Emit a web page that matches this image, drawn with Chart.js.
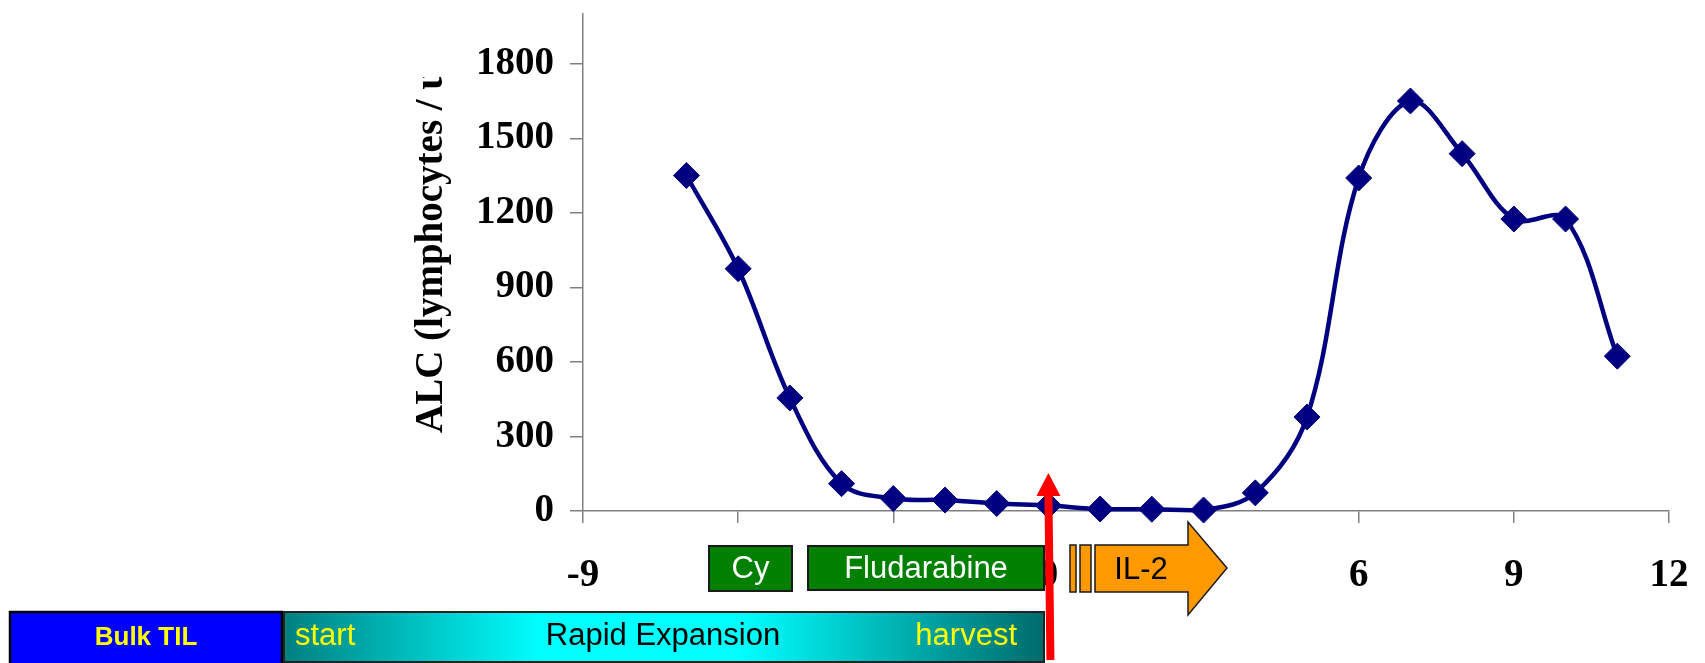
<!DOCTYPE html>
<html><head><meta charset="utf-8">
<script src="https://cdn.jsdelivr.net/npm/chart.js@4"></script>
<style>html,body{margin:0;padding:0;background:#fff;overflow:hidden}</style>
</head><body>
<canvas id="c" width="1705" height="663"></canvas>
<script>
// ---- data ----
const days = [-7, -6, -5, -4, -3, -2, -1, 0, 1, 2, 3, 4, 5, 6, 7, 8, 9, 10, 11];
const alc = [1350, 975, 455, 110, 50, 44, 30, 22, 8, 7, 4, 73, 378, 1340, 1650, 1438, 1175, 1175, 623];
const xTicks = [-9, -6, -3, 0, 3, 6, 9, 12];
const yTicks = [0, 300, 600, 900, 1200, 1500, 1800];
const yTitle = 'ALC (lymphocytes / uL)';
const treatLabels = ['Cy', 'Fludarabine', 'IL-2'];
const cultureLabels = ['Bulk TIL', 'start', 'Rapid Expansion', 'harvest'];

const serif = '"Liberation Serif", "Times New Roman", serif';
const sans = '"Liberation Sans", Arial, sans-serif';

function box(ctx, x, y, w, h, fill, stroke, lw) {
  ctx.fillStyle = fill;
  ctx.fillRect(x, y, w, h);
  ctx.lineWidth = lw;
  ctx.strokeStyle = stroke;
  ctx.strokeRect(x, y, w, h);
}

const overlay = {
  id: 'overlay',
  afterDraw(chart) {
    const ctx = chart.ctx;
    const xs = chart.scales.x;
    ctx.save();
    // y-axis title (clipped at top like the reference)
    ctx.save();
    ctx.beginPath(); ctx.rect(0, 77, 560, 590); ctx.clip();
    ctx.translate(442, 433); ctx.rotate(-Math.PI / 2);
    ctx.font = 'bold 39px ' + serif;
    ctx.fillStyle = '#000'; ctx.textAlign = 'left'; ctx.textBaseline = 'alphabetic';
    ctx.fillText(yTitle, 0, 0);
    ctx.restore();

    // treatment boxes
    box(ctx, 709, 546, 83, 45, '#008000', '#1a1a1a', 2);
    box(ctx, 808, 546, 236, 44, '#008000', '#1a1a1a', 2);
    ctx.font = '31px ' + sans;
    ctx.fillStyle = '#fff'; ctx.textAlign = 'center'; ctx.textBaseline = 'middle';
    ctx.fillText(treatLabels[0], 750.5, 569);
    ctx.fillText(treatLabels[1], 926, 569);

    // IL-2 bars and arrow
    box(ctx, 1070, 545, 6, 47, '#FF9900', '#1a1a1a', 1.5);
    box(ctx, 1080, 545, 11, 47, '#FF9900', '#1a1a1a', 1.5);
    ctx.beginPath();
    ctx.moveTo(1095, 545); ctx.lineTo(1188, 545); ctx.lineTo(1188, 522);
    ctx.lineTo(1227, 568); ctx.lineTo(1188, 615); ctx.lineTo(1188, 592);
    ctx.lineTo(1095, 592); ctx.closePath();
    ctx.fillStyle = '#FF9900'; ctx.fill();
    ctx.lineWidth = 1.5; ctx.strokeStyle = '#1a1a1a'; ctx.stroke();
    ctx.fillStyle = '#000';
    ctx.fillText(treatLabels[2], 1141, 570);

    // culture timeline
    box(ctx, 10, 612, 272, 56, '#0000FF', '#000', 2.5);
    const g = ctx.createLinearGradient(284, 0, 1044, 0);
    g.addColorStop(0, '#008080');
    g.addColorStop(0.34, '#00FFFF');
    g.addColorStop(0.6, '#00FFFF');
    g.addColorStop(1, '#006B6B');
    box(ctx, 284, 612, 760, 50, g, '#222', 2);
    ctx.font = 'bold 26px ' + sans;
    ctx.fillStyle = '#FFFF00'; ctx.textAlign = 'center';
    ctx.fillText(cultureLabels[0], 146, 638);
    ctx.font = '31px ' + sans;
    ctx.textAlign = 'left';
    ctx.fillText(cultureLabels[1], 295, 636);
    ctx.textAlign = 'right';
    ctx.fillText(cultureLabels[3], 1017, 636);
    ctx.fillStyle = '#000'; ctx.textAlign = 'center';
    ctx.fillText(cultureLabels[2], 663, 636);

    // red arrow at day 0
    const x0 = xs.getPixelForValue(0);
    ctx.fillStyle = '#FF0000';
    ctx.beginPath();
    ctx.moveTo(x0 - 4, 495); ctx.lineTo(x0 + 4, 495);
    ctx.lineTo(x0 + 6, 660); ctx.lineTo(x0 - 2, 660); ctx.closePath();
    ctx.fill();
    ctx.beginPath();
    ctx.moveTo(x0 - 12, 496); ctx.lineTo(x0 + 12, 496); ctx.lineTo(x0, 473); ctx.closePath();
    ctx.fill();
    ctx.restore();
  }
};

new Chart(document.getElementById('c'), {
  type: 'line',
  data: {
    datasets: [{
      data: days.map((d, i) => ({ x: d, y: alc[i] })),
      borderColor: '#000080',
      backgroundColor: '#000080',
      borderWidth: 4.5,
      tension: 0.35,
      pointStyle: 'rectRot',
      pointRadius: 13,
      pointBorderWidth: 1,
      pointBackgroundColor: '#000080',
      pointBorderColor: '#000080',
      clip: false
    }]
  },
  options: {
    responsive: false,
    animation: false,
    devicePixelRatio: 1,
    layout: { padding: { top: 9, right: 36, left: 0, bottom: 0 } },
    plugins: { legend: { display: false }, tooltip: { enabled: false } },
    scales: {
      x: {
        type: 'linear', min: -9, max: 12,
        afterBuildTicks: s => { s.ticks = xTicks.map(v => ({ value: v })); },
        afterFit: s => { s.height = 152; s.paddingLeft = 0; s.paddingRight = 0; },
        ticks: { font: { family: serif, size: 39, weight: 'bold' }, color: '#000', padding: 30, maxRotation: 0, callback: v => String(v) },
        grid: { drawOnChartArea: false, drawTicks: true, tickLength: 12, color: '#808080', lineWidth: 1.5 },
        border: { display: true, color: '#808080', width: 1.5 }
      },
      y: {
        min: 0, max: 2000,
        afterBuildTicks: s => { s.ticks = yTicks.map(v => ({ value: v })); },
        afterFit: s => { s.width = 583; s.paddingTop = 0; s.paddingBottom = 0; },
        ticks: { font: { family: serif, size: 39, weight: 'bold' }, color: '#000', padding: 16, callback: v => String(v) },
        grid: { drawOnChartArea: false, drawTicks: true, tickLength: 13, color: '#808080', lineWidth: 1.5 },
        border: { display: true, color: '#808080', width: 1.5 }
      }
    }
  },
  plugins: [overlay]
});
</script>
</body></html>
